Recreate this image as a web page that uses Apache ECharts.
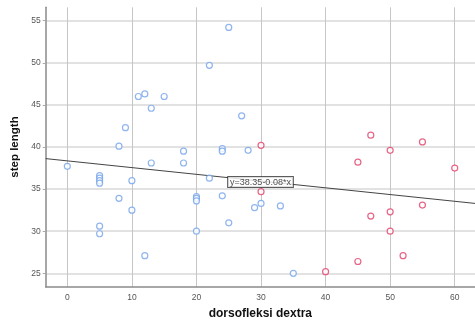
<!DOCTYPE html>
<html><head><meta charset="utf-8">
<script src="https://cdn.jsdelivr.net/npm/echarts@6/dist/echarts.min.js"></script>
<style>html,body{margin:0;padding:0;background:#fff}#c{width:475px;height:325px}</style>
</head><body><div id="c"></div>
<script>
const blueX = [25,22,11,12,13,15,9,8,18,24,24,27,28,0,5,5,5,5,10,13,18,22,8,10,20,20,20,24,25,5,5,20,12,30,29,33,35];
const blueY = [54.2,49.7,46.0,46.3,44.6,46.0,42.3,40.1,39.5,39.8,39.5,43.7,39.6,37.7,36.6,36.3,36.0,35.7,36.0,38.1,38.1,36.3,33.9,32.5,34.1,33.9,33.6,34.2,31.0,30.6,29.7,30.0,27.1,33.3,32.8,33.0,25.0];
const redX = [30,47,50,55,45,60,30,55,50,47,50,52,45,40];
const redY = [40.2,41.4,39.6,40.6,38.2,37.5,34.7,33.1,32.3,31.8,30.0,27.1,26.4,25.2];
const lineX = [-3.35, 63.14];
const lineY = [38.62, 33.3];
const xTicks = [0,10,20,30,40,50,60];
const yTicks = [25,30,35,40,45,50,55];
const fitLabel = 'y=38.35-0.08*x';
const labelAt = [24.9, 36.45];

const zip = (a,b)=>a.map((v,i)=>[v,b[i]]);
const chart = echarts.init(document.getElementById('c'));
chart.setOption({
  animation:false,
  grid:{left:45.7, top:7.3, right:0, bottom:38.3},
  xAxis:{type:'value', min:-3.35, max:63.14,
    name:'dorsofleksi dextra', nameLocation:'middle', nameGap:21,
    nameTextStyle:{fontFamily:'Liberation Sans', fontWeight:'bold', fontSize:12, color:'#111'},
    axisLine:{show:true, onZero:false, lineStyle:{color:'#8a8a8a', width:1.5}},
    axisTick:{show:false, customValues:xTicks},
    axisLabel:{customValues:xTicks, fontFamily:'Liberation Sans', fontSize:8.5, color:'#555', margin:6},
    splitLine:{show:true, lineStyle:{color:'#c6c6c6', width:1}}
  },
  yAxis:{type:'value', min:23.41, max:56.59,
    name:'step length', nameLocation:'middle', nameGap:20,
    nameTextStyle:{fontFamily:'Liberation Sans', fontWeight:'bold', fontSize:11.5, color:'#111'},
    axisLine:{show:true, onZero:false, lineStyle:{color:'#8a8a8a', width:1.5}},
    axisTick:{show:true, customValues:yTicks, length:3, lineStyle:{color:'#aaa'}},
    axisLabel:{customValues:yTicks, fontFamily:'Liberation Sans', fontSize:8.5, color:'#555', margin:5},
    splitLine:{show:true, lineStyle:{color:'#e2e2e2', width:2}}
  },
  series:[
    {type:'line', data:zip(lineX,lineY), symbol:'none', lineStyle:{color:'#444', width:1}, z:3},
    {type:'scatter', data:zip(blueX,blueY), symbol:'circle', symbolSize:6,
      itemStyle:{color:'#fff', borderColor:'#74a3ea', borderWidth:1.2}, z:4},
    {type:'scatter', data:zip(redX,redY), symbol:'circle', symbolSize:6,
      itemStyle:{color:'#fff', borderColor:'#e0406a', borderWidth:1.2}, z:4},
    {type:'scatter', data:[labelAt], symbolSize:0, z:6, silent:true,
      label:{show:true, formatter:fitLabel, position:[0,0], align:'left', verticalAlign:'top',
        fontFamily:'Liberation Sans', fontSize:9, color:'#222', backgroundColor:'#fff',
        borderColor:'#333', borderWidth:1, padding:[1,2,0,2]}}
  ]
});
</script></body></html>
